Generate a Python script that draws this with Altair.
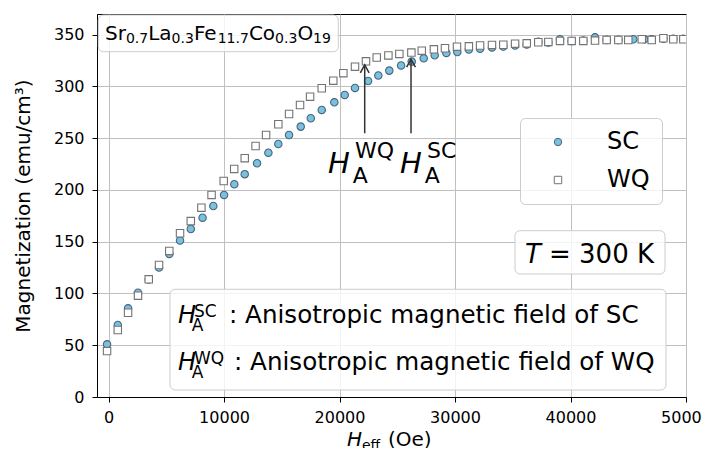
import altair as alt
import pandas as pd

# ---------------- data ----------------
SC_x = [-130, 800, 1690, 2550, 3480, 4370, 5260, 6190, 7120, 8140, 9070, 10000, 10890, 11790,
        12860, 13840, 14700, 15630, 16640, 17510, 18460, 19550, 20450, 21340, 22470, 23360,
        24310, 25330, 26250, 27290, 28240, 29250, 30200, 31200, 32170, 33200, 34180, 35200,
        36210, 37210, 38080, 39090, 40100, 41110, 42120, 43130, 44140, 45440, 46400, 47030,
        48040, 48900, 49770]
SC_y = [50.9, 69.6, 85.7, 100.8, 113.5, 125.1, 138.2, 151.2, 162.3, 173.2, 184.5, 195.2, 205.5,
        215.3, 225.8, 236.0, 244.4, 253.1, 261.2, 269.3, 277.3, 284.7, 291.8, 298.6, 305.3,
        310.6, 315.3, 320.3, 324.0, 327.2, 330.1, 332.4, 333.3, 335.6, 336.5, 337.7, 338.6,
        339.6, 340.6, 343.3, 342.5, 345.6, 344.0, 344.5, 347.5, 345.0, 345.0, 345.6, 345.5,
        345.5, 346.0, 346.0, 346.0]
WQ_x = [-130, 800, 1690, 2550, 3480, 4370, 5260, 6190, 7120, 8040, 8920, 9970, 10880, 11790,
        12730, 13640, 14700, 15630, 16580, 17450, 18460, 19460, 20330, 21340, 22290, 23220,
        24230, 25180, 26220, 27120, 28170, 29130, 30170, 31200, 32170, 33200, 34180, 35200,
        36210, 37210, 38080, 39090, 40100, 41110, 42120, 43130, 44140, 45000, 46170, 47030,
        48040, 48900, 49770]
WQ_y = [44.4, 64.7, 81.4, 97.9, 113.7, 127.5, 141.1, 158.2, 169.9, 182.9, 195.2, 208.7, 220.3,
        230.7, 242.5, 253.1, 263.5, 273.4, 282.1, 290.1, 298.3, 305.6, 312.8, 319.1, 324.3,
        328.0, 330.0, 331.4, 332.7, 334.6, 335.9, 336.9, 338.4, 338.8, 339.6, 340.1, 340.3,
        341.3, 341.7, 342.7, 343.0, 344.0, 344.0, 344.0, 344.3, 344.9, 344.9, 344.9, 345.6,
        344.9, 346.6, 345.6, 345.6]
series_names = ["SC", "WQ"]
x_ticks = [0, 10000, 20000, 30000, 40000, 50000]
y_ticks = [0, 50, 100, 150, 200, 250, 300, 350]

# anisotropy-field arrows (data units)
HA_names = ["WQ", "SC"]
HA_x = [22180, 26190]
HA_tip = [320.8, 326.3]
HA_tail = [254.8, 254.8]

FONT = "DejaVu Sans"
W, H = 589, 383

df = pd.DataFrame({
    "H": SC_x + WQ_x,
    "M": SC_y + WQ_y,
    "series": ["SC"] * len(SC_x) + ["WQ"] * len(WQ_x),
})
arrows = pd.DataFrame({"H": HA_x, "M": HA_tip, "M2": HA_tail, "name": HA_names})

xs = alt.Scale(domain=[-1000, 50000], nice=False, zero=False)
ys = alt.Scale(domain=[0, 370], nice=False, zero=False)
x_axis = alt.Axis(values=x_ticks, format="d", title=None, grid=True, labelFlush=False,
                  labelPadding=7)
y_axis = alt.Axis(values=y_ticks, title="Magnetization (emu/cm³)", grid=True, labelFlush=False,
                  labelPadding=8,
                  titleX=-68, titleY=191.5, titleAngle=-90, titleAlign="center",
                  titleBaseline="alphabetic", titleFont=FONT, titleFontSize=20,
                  titleFontWeight="normal", titleColor="black")

leg = alt.Legend(title=None, orient="none", legendX=423, legendY=104,
                 padding=12, symbolOffset=14, labelOffset=37, rowPadding=14,
                 cornerRadius=5, fillColor="rgba(255,255,255,0.8)", strokeColor="#cccccc",
                 labelFont=FONT, labelFontSize=24, labelColor="black",
                 symbolSize=55, symbolStrokeWidth=1)

points = alt.Chart(df).mark_point(filled=True, size=55, strokeWidth=1.1, opacity=1, clip=True).encode(
    x=alt.X("H:Q", scale=xs, axis=x_axis),
    y=alt.Y("M:Q", scale=ys, axis=y_axis),
    shape=alt.Shape("series:N", scale=alt.Scale(domain=series_names, range=["circle", "square"]), legend=leg),
    fill=alt.Fill("series:N", scale=alt.Scale(domain=series_names, range=["#7cc0e0", "#ffffff"]), legend=leg),
    stroke=alt.Stroke("series:N", scale=alt.Scale(domain=series_names, range=["#46677a", "#737373"]), legend=leg),
)

shafts = alt.Chart(arrows).mark_rule(color="#333333", strokeWidth=1.5).encode(
    x=alt.X("H:Q", scale=xs, axis=x_axis),
    y=alt.Y("M2:Q", scale=ys, axis=y_axis),
    y2="M:Q",
)
heads = alt.Chart(arrows).mark_point(shape="M -0.55 1 L 0 0 L 0.55 1", size=256, filled=False,
                                     stroke="#333333", strokeWidth=1.5, opacity=1).encode(
    x=alt.X("H:Q", scale=xs, axis=x_axis),
    y=alt.Y("M:Q", scale=ys, axis=y_axis),
)

dummy = pd.DataFrame({"k": [0]})


def box(x0, x1, y0, y1):
    return alt.Chart(dummy).mark_rect(cornerRadius=5, fill="white", fillOpacity=0.8,
                                      stroke="#cccccc", strokeWidth=1).encode(
        x=alt.value(x0), x2=alt.value(x1), y=alt.value(y0), y2=alt.value(y1))


def txt(s, px, py, size, italic=False):
    return alt.Chart(dummy).mark_text(align="left", baseline="alphabetic", font=FONT,
                                      fontSize=size, fontStyle="italic" if italic else "normal",
                                      color="black").encode(
        x=alt.value(px), y=alt.value(py), text=alt.value(s))


layers = [points, shafts, heads]

# compound label box
layers.append(box(1.3, 241.3, 1, 37.7))
for s, px, py, sz in [("Sr", 8, 26, 20), ("0.7", 28.9, 29.3, 14), ("La", 51.2, 26, 20),
                      ("0.3", 74.6, 29.3, 14), ("Fe", 96.9, 26, 20), ("11.7", 120.7, 29.3, 14),
                      ("Co", 151.9, 26, 20), ("0.3", 178.1, 29.3, 14), ("O", 200.4, 26, 20),
                      ("19", 216.1, 29.3, 14)]:
    layers.append(txt(s, px, py, sz))

# big H_A labels
for px, sup in [(231, "WQ"), (303, "SC")]:
    layers.append(txt("H", px, 159, 29, italic=True))
    layers.append(txt(sup, px + 27, 144, 22))
    layers.append(txt("A", px + 24.7, 169.3, 22))

# T = 300 K
layers.append(box(418, 568, 216.7, 260))
layers.append(txt("T", 428, 248.7, 26, italic=True))
layers.append(txt("= 300 K", 452, 248.7, 26))

# description box
layers.append(box(73, 569, 275.3, 376))
for base, sup, tx, label in [(309.3, "SC", 132, ": Anisotropic magnetic field of SC"),
                             (356, "WQ", 137, ": Anisotropic magnetic field of WQ")]:
    layers.append(txt("H", 81, base, 24, italic=True))
    layers.append(txt(sup, 97, base - 6.3, 17))
    layers.append(txt("A", 94.7, base + 7.7, 17))
    layers.append(txt(label, tx, base, 24.6))

# x-axis title H_eff (Oe)
layers.append(txt("H", 250, 432, 20, italic=True))
layers.append(txt("eff", 265, 436, 14))
layers.append(txt("(Oe)", 291, 432, 20))

chart = alt.layer(*layers).properties(
    width=W, height=H,
    autosize=alt.AutoSizeParams(type="none"),
    padding={"left": 89, "top": 6, "right": 16, "bottom": 51},
).configure_view(stroke="black", strokeWidth=1).configure_axis(
    domainColor="black", domainWidth=1, tickColor="black", tickSize=5, tickWidth=1,
    labelColor="black", labelFont=FONT, labelFontSize=16,
    gridColor="#c0c0c0", gridWidth=1,
)

chart.save("out.html", embed_options={"renderer": "svg", "actions": False})
